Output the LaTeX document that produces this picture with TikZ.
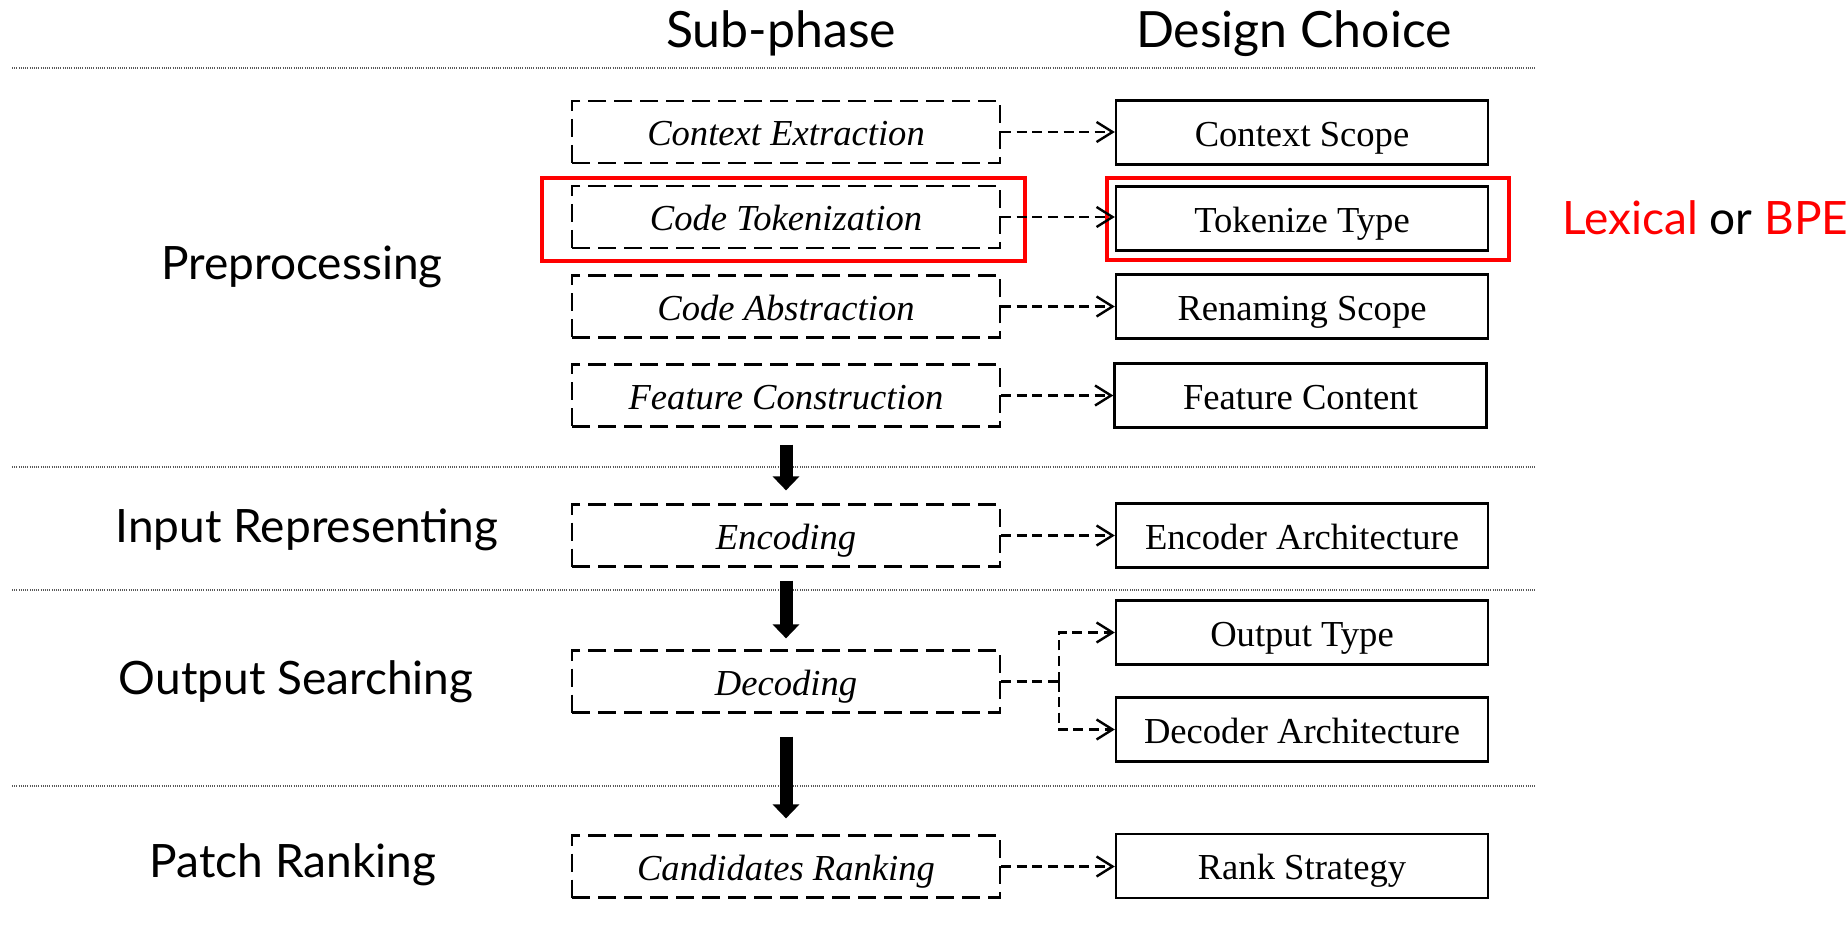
\documentclass[tikz,border=0pt]{standalone}
\usepackage{fontspec}
\setmainfont{Liberation Serif}
\newfontfamily\uifont{Lato}
\usetikzlibrary{arrows.meta}

\tikzset{
  subbox/.style={draw, line width=1.1pt, dash pattern=on 9pt off 4pt,
    minimum width=214pt, minimum height=31pt, inner sep=0pt,
    text height=14pt, text depth=0.3pt,
    font=\fontsize{18.3}{22}\selectfont\itshape},
  choicebox/.style={draw, line width=1.2pt,
    minimum width=186pt, minimum height=32pt, inner sep=0pt,
    text height=14pt, text depth=0.3pt,
    font=\fontsize{18.3}{22}\selectfont},
  hilite/.style={draw=red, line width=2pt, inner sep=0pt},
  dashline/.style={line width=1.15pt, dash pattern=on 5pt off 2.8pt},
  dasharrow/.style={dashline,
    -{Straight Barb[length=8pt, width=10pt, line width=1.2pt]}},
  bigarrow/.style={line width=6.5pt, -{Triangle[length=7pt, width=13pt]}},
  sepline/.style={black!65, line width=0.6pt, dash pattern=on 0.5pt off 0.6pt},
  phase/.style={anchor=base, inner sep=0pt, font=\uifont\fontsize{23}{27}\selectfont},
  heading/.style={phase, font=\uifont\fontsize{25}{30}\selectfont},
}

\begin{document}
\begin{tikzpicture}[x=0.5pt, y=-0.5pt]
\useasboundingbox (0,0) rectangle (1846,930);

% column headings
\node[heading] (hsub) at (781,48) {Sub-phase};
\node[heading] (hdes) at (1294,48) {Design Choice};

% section separators
\draw[sepline] (12,68) -- (1536,68);
\draw[sepline] (12,467) -- (1536,467);
\draw[sepline] (12,590) -- (1536,590);
\draw[sepline] (12,786) -- (1536,786);

% phase labels
\node[phase] (pre) at (302,280) {Preprocessing};
\node[phase] (inp) at (307,542) {Input Representing};
\node[phase] (out) at (296,694) {Output Searching};
\node[phase] (rnk) at (293,877) {Patch Ranking};

% sub-phases
\node[subbox] (ctx)  at (786,132)   {Context Extraction};
\node[subbox] (tok)  at (786,217)   {Code Tokenization};
\node[subbox] (abs)  at (786,306.5) {Code Abstraction};
\node[subbox] (feat) at (786,395.5) {Feature Construction};
\node[subbox] (enc)  at (786,535.5) {Encoding};
\node[subbox] (dec)  at (786,681.5) {Decoding};
\node[subbox] (cand) at (786,866.5) {Candidates Ranking};

% design choices
\node[choicebox] (cscope)   at (1302,132.5) {Context Scope};
\node[choicebox] (ttype)    at (1302,218.5) {Tokenize Type};
\node[choicebox] (rscope)   at (1302,306.5) {Renaming Scope};
\node[choicebox] (fcontent) at (1300.5,395.5) {Feature Content};
\node[choicebox] (encarch)  at (1302,535.5) {Encoder Architecture};
\node[choicebox] (outtype)  at (1302,632.5) {Output Type};
\node[choicebox] (decarch)  at (1302,729.5) {Decoder Architecture};
\node[choicebox] (rank)     at (1302,866)   {Rank Strategy};

% highlighted pair
\node[hilite, minimum width=241.5pt, minimum height=41.5pt] (redA) at (783.5,219.5) {};
\node[hilite, minimum width=201pt, minimum height=41pt] (redB) at (1308,219) {};
\node[anchor=base west, inner sep=0pt, font=\uifont\fontsize{23}{27}\selectfont]
  (note) at (1562,235) {\textcolor{red}{Lexical} or \textcolor{red}{BPE}};

% sub-phase to design choice
\draw[dasharrow] (ctx.east)  -- (ctx.east -| cscope.west);
\draw[dasharrow] (tok.east)  -- (tok.east -| ttype.west);
\draw[dasharrow] (abs.east)  -- (abs.east -| rscope.west);
\draw[dasharrow] (feat.east) -- (feat.east -| fcontent.west);
\draw[dasharrow] (enc.east)  -- (enc.east -| encarch.west);
\coordinate (split) at (1059,681.5);
\draw[dashline]  (dec.east) -- (split);
\draw[dasharrow] (split) |- (outtype.west);
\draw[dasharrow] (split) |- (decarch.west);
\draw[dasharrow] (cand.east) -- (cand.east -| rank.west);

% flow between phases
\draw[bigarrow, shorten <=8.5pt, shorten >=6.5pt] (feat.south) -- (enc.north);
\draw[bigarrow, shorten <=6.5pt, shorten >=5.5pt] (enc.south) -- (dec.north);
\draw[bigarrow, shorten <=11.5pt, shorten >=8pt] (dec.south) -- (cand.north);
\end{tikzpicture}
\end{document}
